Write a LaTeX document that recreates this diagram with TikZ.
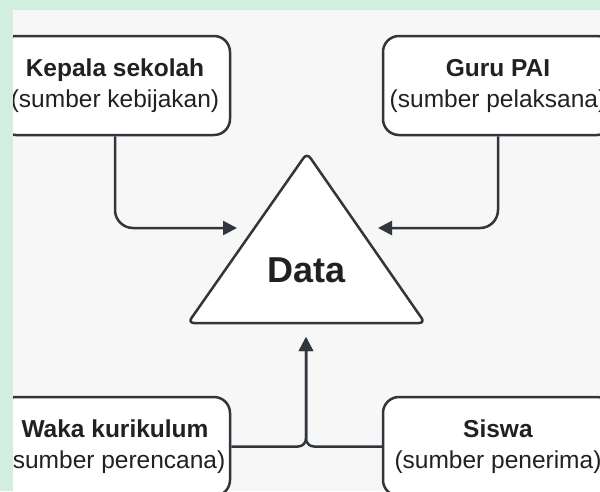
\documentclass[tikz,border=0pt]{standalone}
\usepackage{fontspec}
\setmainfont{Liberation Sans}
\usetikzlibrary{positioning,arrows.meta}
\definecolor{linec}{HTML}{30363C}
\definecolor{mint}{HTML}{D2EEDF}
\definecolor{paper}{HTML}{F7F7F7}

\begin{document}
\begin{tikzpicture}[x=1pt,y=-1pt,line width=2.5pt,font=\fontsize{24.5}{31}\selectfont]
            \tikzstyle{box}=[draw=linec,fill=white,rounded corners=16pt,minimum width=230pt,minimum height=99pt,align=center,text=black!87]
            \tikzstyle{arr}=[draw=linec,-{Triangle[length=14pt,width=14pt]},rounded corners=18pt]
            \useasboundingbox (0,0) rectangle (600,491);
            \fill[mint] (0,0) rectangle (600,491);
            \begin{scope}
            \clip (13,10) rectangle (600,491);
            \fill[paper] (13,10) rectangle (600,491);

            \node[box] (kepala) at (115,85.5) {\textbf{Kepala sekolah}\\(sumber kebijakan)};
            \node[box] (guru) at (498,85.5) {\textbf{Guru PAI}\\(sumber pelaksana)};
            \node[box] (waka) at (115,446.5) {\textbf{Waka kurikulum}\\(sumber perencana)};
            \node[box] (siswa) at (498,446.5) {\textbf{Siswa}\\(sumber penerima)};

            % triangle
            \filldraw[draw=linec,fill=white,rounded corners=6pt,line join=round] (307,153) -- (425,323) -- (188,323) -- cycle;
            \node[font=\fontsize{36}{40}\selectfont\bfseries,text=black!87] (data) at (307,270.5) {Data};
            \coordinate (inL) at (237,228);
            \coordinate (inR) at (378,228);
            \coordinate (inB) at (306,337);

            \draw[arr] (kepala.south) |- (inL);
            \draw[arr] (guru.south) |- (inR);
            \draw[arr,rounded corners=8pt] (waka.east) -| (inB);
            \draw[arr,rounded corners=8pt] (siswa.west) -| (inB);
            \end{scope}
        \end{tikzpicture}
\end{document}
